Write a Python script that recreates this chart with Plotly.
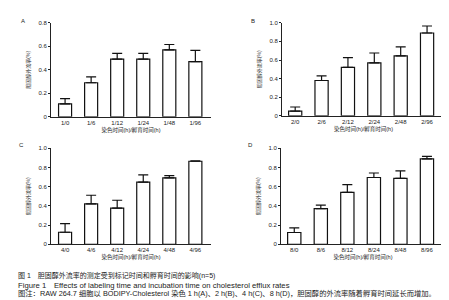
import plotly.graph_objects as go

cats_a = ["1/0", "1/6", "1/12", "1/24", "1/48", "1/96"]
vals_a = [0.11, 0.29, 0.49, 0.49, 0.57, 0.47]
errs_a = [0.045, 0.05, 0.05, 0.05, 0.045, 0.095]

cats_b = ["2/0", "2/6", "2/12", "2/24", "2/48", "2/96"]
vals_b = [0.05, 0.38, 0.52, 0.57, 0.645, 0.89]
errs_b = [0.045, 0.05, 0.105, 0.105, 0.095, 0.075]

cats_c = ["4/0", "4/6", "4/12", "4/24", "4/48", "4/96"]
vals_c = [0.125, 0.42, 0.376, 0.647, 0.69, 0.864]
errs_c = [0.09, 0.09, 0.082, 0.075, 0.025, 0.004]

cats_d = ["8/0", "8/6", "8/12", "8/24", "8/48", "8/96"]
vals_d = [0.122, 0.37, 0.54, 0.695, 0.685, 0.888]
errs_d = [0.048, 0.037, 0.08, 0.047, 0.078, 0.027]

ytitle = "胆固醇外流率(%)"
xtitle = "染色时间(h)/孵育时间(h)"
letters = ["A", "B", "C", "D"]
caption_cn = "图 1　胆固醇外流率的测定受到标记时间和孵育时间的影响(n=5)"
caption_en = "Figure 1　Effects of labeling time and incubation time on cholesterol efflux rates"
caption_note = "图注：RAW 264.7 细胞以 BODIPY-Cholesterol 染色 1 h(A)、2 h(B)、4 h(C)、8 h(D)，胆固醇的外流率随着孵育时间延长而增加。"

W, H = 449, 300
FONT = "Arial, Liberation Sans, Noto Sans CJK SC, sans-serif"

def fx(px):
    return px / W

def fy(px):
    return 1 - px / H

# panel geometry in pixels: (x0, x1, ybottom, ytop, ymax, xrange)
panels = [
    (cats_a, vals_a, errs_a, (43, 203, 108, 12), 0.8, [-0.54, 5.6]),
    (cats_b, vals_b, errs_b, (274, 437, 107, 12), 1.0, [-0.5, 5.68]),
    (cats_c, vals_c, errs_c, (43, 203, 238, 140), 1.0, [-0.54, 5.6]),
    (cats_d, vals_d, errs_d, (273, 437, 238, 140), 1.0, [-0.5, 5.68]),
]

fig = go.Figure()
layout = {}
annotations = []
for i, (cats, vals, errs, (x0, x1, yb, yt), ymax, xr) in enumerate(panels):
    n = "" if i == 0 else str(i + 1)
    fig.add_trace(go.Bar(
        x=cats, y=vals,
        xaxis="x" + n, yaxis="y" + n,
        marker=dict(color="white", line=dict(color="#111", width=1.2)),
        width=0.5,
        error_y=dict(type="data", array=errs, arrayminus=[0] * len(errs),
                     symmetric=False, color="#111", thickness=1.2, width=5),
        showlegend=False,
    ))
    layout["xaxis" + n] = dict(
        domain=[fx(x0), fx(x1)], anchor="y" + n, type="category",
        range=xr, showline=True, linecolor="#222", linewidth=1,
        ticks="", showgrid=False, zeroline=False,
        tickfont=dict(size=6, color="#222", family=FONT),
        title=dict(text=xtitle, font=dict(size=5.5, color="#222", family=FONT), standoff=2),
    )
    step = 0.2
    tv = [round(k * step, 1) for k in range(int(round(ymax / step)) + 1)]
    tt = ["0" if v == 0 else f"{v:.1f}" for v in tv]
    layout["yaxis" + n] = dict(
        domain=[fy(yb), fy(yt)], anchor="x" + n, range=[0, ymax],
        showline=True, linecolor="#222", linewidth=1,
        ticks="outside", ticklen=2, tickcolor="#222",
        tickvals=tv, ticktext=tt, showgrid=False, zeroline=False,
        tickfont=dict(size=6, color="#222", family=FONT),
        title=dict(text=ytitle, font=dict(size=5, color="#222", family=FONT), standoff=7),
    )
    lx = [15, 245, 13, 242][i]
    ly = [10, 10, 137, 137][i]
    annotations.append(dict(text=letters[i], x=fx(lx), y=fy(ly), xref="paper", yref="paper",
                            showarrow=False, xanchor="center", yanchor="middle",
                            font=dict(size=6, color="#222", family=FONT)))

for txt, y, size in [(caption_cn, 270, 7), (caption_en, 280, 7.7), (caption_note, 288, 7.3)]:
    annotations.append(dict(text=txt, x=fx(8), y=fy(y), xref="paper", yref="paper",
                            showarrow=False, xanchor="left", yanchor="middle",
                            font=dict(size=size, color="#222", family=FONT)))

fig.update_layout(
    width=W, height=H, margin=dict(l=0, r=0, t=0, b=0),
    paper_bgcolor="white", plot_bgcolor="white",
    annotations=annotations, **layout,
)
fig.write_html("out.html")
